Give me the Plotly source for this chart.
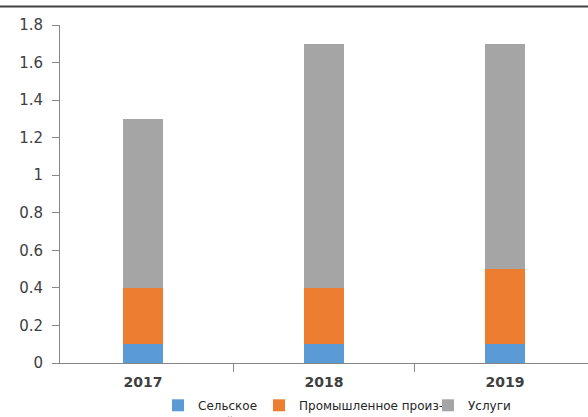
import plotly.graph_objects as go

years = ["2017", "2018", "2019"]
agri = [0.1, 0.1, 0.1]
industry = [0.3, 0.3, 0.4]
services = [0.9, 1.3, 1.2]
names = ["Сельское<br>хозяйство", "Промышленное произ-<br>водство", "Услуги"]
colors = ["#5B9BD5", "#ED7D31", "#A5A5A5"]
legend_widths = [56, 124, 50]
yticks = [0, 0.2, 0.4, 0.6, 0.8, 1, 1.2, 1.4, 1.6, 1.8]
ylabels = ["0", "0.2", "0.4", "0.6", "0.8", "1", "1.2", "1.4", "1.6", "1.8"]

W, H = 588, 417
L, R, T, B = 60, 0, 25, 54
pw, ph = W - L - R, H - T - B

fig = go.Figure()
for vals, nm, c, lw in zip([agri, industry, services], names, colors, legend_widths):
    fig.add_trace(go.Bar(x=years, y=vals, name=nm, legendwidth=lw,
                         marker=dict(color=c, line=dict(width=0))))

fig.update_layout(
    width=W, height=H,
    margin=dict(l=L, r=R, t=T, b=B, autoexpand=False),
    barmode="stack", bargap=0.78,
    plot_bgcolor="white", paper_bgcolor="white",
    font=dict(family="DejaVu Sans", color="#404040"),
    showlegend=True,
    legend=dict(orientation="h", x=(158 - L) / pw, xanchor="left",
                y=-(391 - (T + ph)) / ph, yanchor="top",
                font=dict(size=12, color="#262626"), valign="top",
                traceorder="normal", itemclick=False, bgcolor="rgba(0,0,0,0)"),
    xaxis=dict(type="category", range=[-0.4586, 2.459], showline=True, linecolor="#868686",
               linewidth=1, ticks="outside", tickson="boundaries", ticklen=8, tickcolor="#868686",
               tickfont=dict(size=14, color="#404040", weight="bold"), showgrid=False,
               ticklabelstandoff=6),
    yaxis=dict(range=[0, 1.8], tickvals=yticks, ticktext=ylabels, showline=True,
               linecolor="#868686", linewidth=1, ticks="outside", ticklen=7, tickcolor="#868686",
               tickfont=dict(size=15, color="#404040"), showgrid=False, zeroline=False,
               ticklabelstandoff=6),
    shapes=[
        dict(type="line", xref="paper", yref="paper", x0=-L / pw, x1=1,
             ysizemode="pixel", yanchor=1, y0=18.5, y1=18.5,
             line=dict(color="#404040", width=2), layer="above"),
        dict(type="line", xref="paper", yref="y", x0=0, x1=0, ysizemode="pixel", yanchor=0,
             y0=0, y1=-10, line=dict(color="#868686", width=1)),
    ],
)

fig.write_html("out.html", config={"displayModeBar": False},
               post_script="document.body.style.margin='0';document.body.style.overflow='hidden';")
